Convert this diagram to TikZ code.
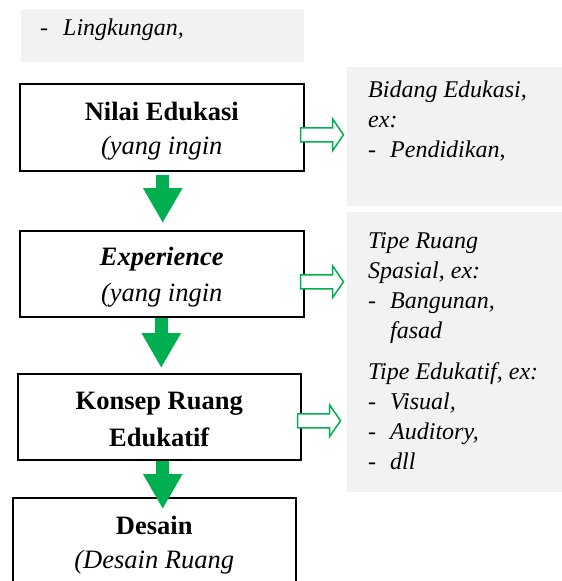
\documentclass[tikz,border=0pt]{standalone}
\usepackage{fontspec}
\setmainfont{Liberation Serif}
\usetikzlibrary{arrows.meta, positioning, calc}

\definecolor{flowgreen}{HTML}{00B050}
\definecolor{notegray}{HTML}{F2F2F2}

\tikzset{
  stepbox/.style={draw=black, line width=1.5pt, inner sep=0pt, anchor=north west,
    font=\fontsize{26.5}{34}\selectfont\bfseries},
  notebox/.style={fill=notegray, inner sep=0pt, anchor=north west,
    font=\fontsize{24}{30}\selectfont\itshape},
  downarrow/.style={draw=flowgreen, line width=13pt, -{Triangle[width=37pt,length=35pt]}},
  sidearrow/.style={draw=flowgreen, line width=1.5pt, fill=white, line join=miter},
}
\newcommand{\steptext}[2]{\parbox[t]{#1}{\centering #2}}
\newcommand{\notetext}[1]{\parbox[t]{220pt}{\raggedright #1}}
\newcommand{\noteline}[1]{\hspace*{21pt}#1}
\newcommand{\dashitem}[1]{\hspace*{21pt}\makebox[22pt][l]{-}#1}

\begin{document}
\begin{tikzpicture}[x=1pt, y=-1pt]
  \useasboundingbox (0,0) rectangle (562,581);
  \clip (0,0) rectangle (562,581);

  % top note (continued from above)
  \node[notebox, text height=26pt, text depth=27pt] (lingkungan) at (21,9)
    {\parbox[t]{283pt}{\hspace*{19pt}\makebox[23pt][l]{-}Lingkungan,}};

  % main steps
  \node[stepbox, text height=37pt, text depth=50pt] (nilai) at (19,83)
    {\steptext{284pt}{Nilai Edukasi\\[-0.7pt]\mdseries\itshape (yang ingin}};
  \node[stepbox, text height=35pt, text depth=51pt] (exper) at (19,230)
    {\steptext{284pt}{\itshape Experience\\[1.7pt]\mdseries (yang ingin}};
  \node[stepbox, text height=36pt, text depth=50pt] (konsep) at (17,373)
    {\steptext{283pt}{Konsep Ruang\\[2.7pt]Edukatif}};
  \node[stepbox, text height=37pt, text depth=50pt] (desain) at (12,497)
    {\steptext{283pt}{Desain\\ \mdseries\itshape (Desain Ruang}};

  % notes on the right
  \node[notebox, text height=30pt, text depth=109pt] (bidang) at (347,67)
    {\notetext{\noteline{Bidang Edukasi,}\\
               \noteline{ex:}\\
               \dashitem{Pendidikan,}}};
  \node[notebox, text height=36pt, text depth=244pt] (tipe) at (347,212)
    {\notetext{\noteline{Tipe Ruang}\\
               \noteline{Spasial, ex:}\\
               \dashitem{Bangunan,}\\
               \hspace*{43pt}fasad\\[11pt]
               \noteline{Tipe Edukatif, ex:}\\
               \dashitem{Visual,}\\
               \dashitem{Auditory,}\\
               \dashitem{dll}}};

  % flow arrows
  \draw[downarrow, shorten <=3pt, shorten >=7pt]
    ([xshift=1pt]nilai.south) -- ([xshift=1pt]nilai.south |- exper.north);
  \draw[downarrow, shorten >=5pt]
    ([xshift=-0.5pt]exper.south) -- ([xshift=-0.5pt]exper.south |- konsep.north);
  \draw[downarrow, shorten >=-12pt]
    ([xshift=3.5pt]konsep.south) -- ([xshift=3.5pt]konsep.south |- desain.north);

  % arrows to the notes
  \foreach \src/\dy in {nilai/7.5, exper/8, konsep/4}
    \draw[sidearrow] ($(\src.east)+(-4,\dy)$) -- ++(0,-7) -- ++(32,0) -- ++(0,-9)
      -- ++(11,16) -- ++(-11,16) -- ++(0,-9) -- ++(-32,0) -- cycle;
\end{tikzpicture}
\end{document}
